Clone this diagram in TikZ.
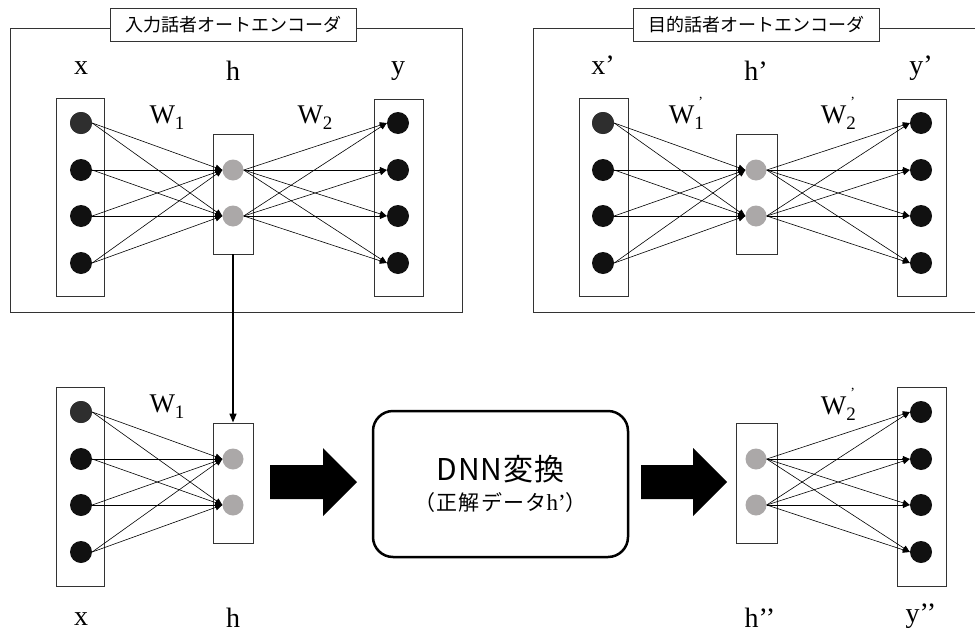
\documentclass[tikz,border=0pt]{standalone}
\usepackage{fontspec}
\setmainfont{Liberation Serif}
\newfontfamily\jpfont{Noto Sans CJK JP}
\usetikzlibrary{arrows.meta}

\definecolor{unitblack}{HTML}{111111}
\definecolor{unitdark}{HTML}{2E2E2E}
\definecolor{hidgray}{HTML}{ABA8A8}
\definecolor{linegray}{HTML}{333333}

\tikzset{
  unit/.style={circle, inner sep=0pt, minimum size=22pt, fill=unitblack},
  hid/.style={circle, inner sep=0pt, minimum size=21pt, fill=hidgray},
  layer/.style={draw=linegray, line width=0.9pt, inner sep=0pt},
  wt/.style={-{Triangle[length=7pt,width=6pt]}, line width=0.6pt},
  lbl/.style={anchor=base, inner sep=0pt, font=\fontsize{28}{28}\selectfont},
  wlbl/.style={anchor=base, inner sep=0pt, font=\fontsize{27}{27}\selectfont},
  frame/.style={draw=linegray, line width=1pt},
  titlebox/.style={draw=linegray, fill=white, line width=1pt, minimum width=246pt, minimum height=33pt, inner sep=0pt, font=\jpfont\fontsize{18}{18}\selectfont},
  dnnbox/.style={draw=black, line width=2.5pt, rounded corners=20pt, minimum width=255pt, minimum height=146pt, align=center, font=\jpfont}
}
\newcommand{\wsub}[1]{W\raisebox{-0.25em}{\fontsize{19}{19}\selectfont #1}}
\newcommand{\wsubp}[1]{W\raisebox{-0.25em}{\fontsize{19}{19}\selectfont #1}\hspace{-0.2em}\raisebox{0.6em}{\fontsize{14}{14}\selectfont ’}}

\begin{document}
\begin{tikzpicture}[x=1pt,y=-1pt]
\useasboundingbox (0,0) rectangle (975,632);
\clip (0,0) rectangle (975,632);

% frames
\draw[frame] (10,28) rectangle (462,312); %input speaker
\draw[frame] (533,28) rectangle (1000,312); %target speaker
\node[titlebox] (tin) at (233,24.5) {入力話者オートエンコーダ};
\node[titlebox] (ttg) at (756,24.5) {目的話者オートエンコーダ};

% layer boxes
\node[layer, minimum width=48pt, minimum height=198pt] (xbox) at (80,197) {};
\node[layer, minimum width=40pt, minimum height=120pt] (hbox) at (233,194) {};
\node[layer, minimum width=49pt, minimum height=197pt] (ybox) at (398.5,197.5) {};

\node[layer, minimum width=49pt, minimum height=198pt] (xpbox) at (603.5,197) {};
\node[layer, minimum width=41pt, minimum height=120pt] (hpbox) at (756.5,194) {};
\node[layer, minimum width=49pt, minimum height=197pt] (ypbox) at (921.5,197.5) {};

\node[layer, minimum width=48pt, minimum height=199pt] (xqbox) at (80,486.5) {};
\node[layer, minimum width=40pt, minimum height=120pt] (hqbox) at (233,483) {};
\node[layer, minimum width=41pt, minimum height=120pt] (hrbox) at (756.5,483) {};
\node[layer, minimum width=49pt, minimum height=199pt] (yrbox) at (921.5,486.5) {};

% units
\foreach \i/\yy in {1/123,2/170,3/216,4/263} {
  \node[unit] (x\i) at (81,\yy) {};
  \node[unit] (y\i) at (398,\yy) {};
  \node[unit] (xp\i) at (603,\yy) {};
  \node[unit] (yp\i) at (921,\yy) {};
}
\foreach \i/\yy in {1/412,2/459,3/505,4/552} {
  \node[unit] (xq\i) at (81,\yy) {};
  \node[unit] (yr\i) at (921,\yy) {};
}
\node[unit, fill=unitdark] at (x1) {};
\node[unit, fill=unitdark] at (xp1) {};
\node[unit, fill=unitdark] at (xq1) {};
\foreach \j/\yy in {1/170,2/216} {
  \node[hid] (h\j) at (233,\yy) {};
  \node[hid] (hp\j) at (756,\yy) {};
}
\foreach \j/\yy in {1/459,2/505} {
  \node[hid] (hq\j) at (233,\yy) {};
  \node[hid] (hr\j) at (756,\yy) {};
}

% weights
\foreach \i in {1,...,4} \foreach \j in {1,2} {
  \draw[wt] (x\i.east) -- (h\j.west);
  \draw[wt] (h\j.east) -- (y\i.west);
  \draw[wt] (xp\i.east) -- (hp\j.west);
  \draw[wt] (hp\j.east) -- (yp\i.west);
  \draw[wt] (xq\i.east) -- (hq\j.west);
  \draw[wt] (hr\j.east) -- (yr\i.west);
}

% labels
\node[lbl] (lx) at (81,74) {x};
\node[lbl] (lh) at (233,80) {h};
\node[lbl] (ly) at (398,74) {y};
\node[lbl] (lxp) at (603,74) {x’};
\node[lbl] (lhp) at (756,80) {h’};
\node[lbl] (lyp) at (921,74) {y’};
\node[wlbl] (lw1) at (167,123) {\wsub{1}};
\node[wlbl] (lw2) at (315,123) {\wsub{2}};
\node[wlbl] (lw1p) at (686,123) {\wsubp{1}};
\node[wlbl] (lw2p) at (838,123) {\wsubp{2}};
\node[wlbl] (lw1q) at (167,412) {\wsub{1}};
\node[wlbl] (lw2r) at (838,414) {\wsubp{2}};
\node[lbl] (lxq) at (81,625) {x};
\node[lbl] (lhq) at (233,627) {h};
\node[lbl] (lhr) at (760,627) {h’’};
\node[lbl] (lyr) at (921,622) {y’’};

% h goes down
\draw[line width=1.5pt, -{Triangle[length=9pt,width=7pt]}] (hbox.south) -- (hqbox.north);

% DNN
\node[dnnbox] (dnn) at (500.5,484) {{\fontsize{30}{30}\selectfont\addfontfeature{LetterSpace=3}DNN変換}\\[8pt]{\fontsize{21}{21}\selectfont\addfontfeature{LetterSpace=6}（正解データ{\rmfamily\fontsize{23}{23}\selectfont h’}）}};

\fill (270,465) -- (323,465) -- (323,448) -- (357,482) -- (323,516) -- (323,499) -- (270,499) -- cycle; %left arrow
\fill (641,465) -- (693,465) -- (693,448) -- (727,482) -- (693,516) -- (693,499) -- (641,499) -- cycle; %right arrow

\end{tikzpicture}
\end{document}
